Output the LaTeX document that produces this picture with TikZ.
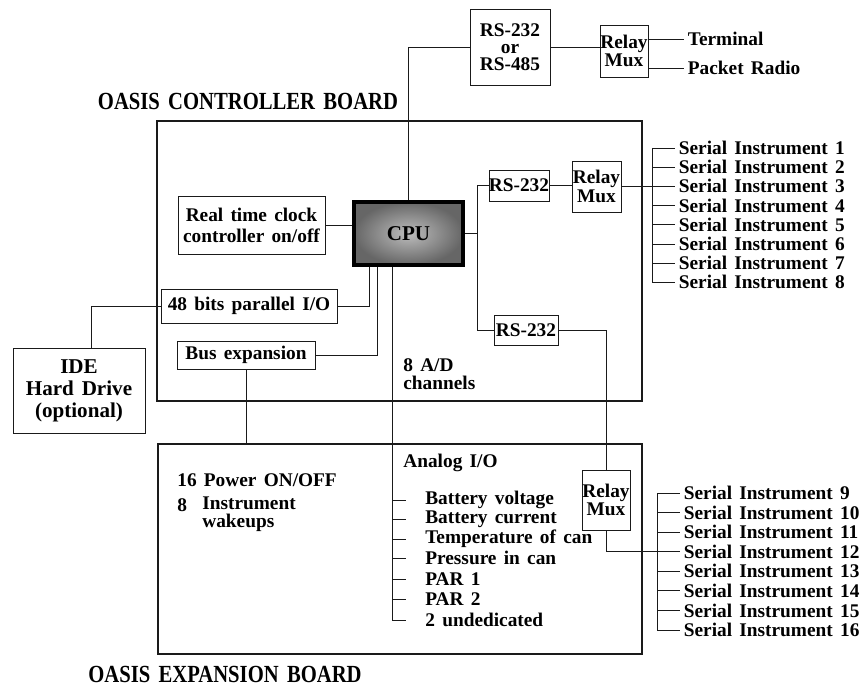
\documentclass[tikz,border=0pt]{standalone}
\usepackage{fontspec}
\setmainfont[WordSpace=1.5]{Liberation Serif}
\newfontfamily\ttlfont[FakeStretch=0.84, WordSpace=1.6]{Liberation Serif}
\usetikzlibrary{calc}
\definecolor{inkline}{HTML}{1A1A1A}
\definecolor{cpuouter}{HTML}{666666}
\definecolor{cpuinner}{HTML}{BDBDBD}
\tikzset{
  board/.style={draw=inkline, line width=1.4pt, inner sep=0pt},
  blk/.style={draw=inkline, line width=0.5pt, inner sep=0pt, align=center, font=\fontsize{11}{10.5}\selectfont\bfseries},
  cpubox/.style={draw=black, line width=2pt, inner sep=0pt, shading=radial, inner color=cpuinner, outer color=cpuouter, font=\fontsize{12}{12}\selectfont\bfseries},
  wire/.style={draw=inkline, line width=0.5pt},
  lbl/.style={font=\fontsize{11}{10.5}\selectfont\bfseries, inner sep=0pt, anchor=west, align=left},
  item/.style={lbl, inner xsep=2pt},
  ttl/.style={font=\ttlfont\fontsize{14}{14}\selectfont\bfseries, inner sep=0pt},
}

\begin{document}
\begin{tikzpicture}[x=0.02cm,y=-0.02cm]
  \useasboundingbox (0,0) rectangle (865,685);
  % boards
  \node[board, minimum width=9.70cm, minimum height=5.60cm] (ctrl) at (399.5,261) {};
  \node[board, minimum width=9.68cm, minimum height=4.20cm] (exp) at (400,549) {};
  \node[ttl] (ctrlttl) at (248,101) {OASIS CONTROLLER BOARD};
  \node[ttl] (expttl) at (225,674) {OASIS EXPANSION BOARD};
  % top link
  \node[blk, font=\fontsize{11}{9.8}\selectfont\bfseries, minimum width=1.60cm, minimum height=1.52cm] (rsx) at (510,47) {RS-232\\or\\RS-485};
  \node[blk, minimum width=0.96cm, minimum height=1.04cm] (muxt) at (624,51) {Relay\\Mux};
  \node[item] (term) at (684,39) {Terminal};
  \node[item] (radio) at (684,68) {Packet Radio};
  % controller board
  \node[cpubox, minimum width=2.18cm, minimum height=1.26cm] (cpu) at (408.5,233.5) {CPU};
  \node[blk, font=\fontsize{11}{12}\selectfont\bfseries, minimum width=2.94cm, minimum height=1.16cm] (rtc) at (251.5,225) {Real time clock\\controller on/off};
  \node[blk, minimum width=3.52cm, minimum height=0.68cm] (pio) at (249,306) {48 bits parallel I/O};
  \node[blk, minimum width=2.76cm, minimum height=0.56cm] (bus) at (246,355) {Bus expansion};
  \node[blk, minimum width=1.08cm, minimum height=0.62cm] (rsa) at (519,185.5) {RS-232};
  \node[blk, minimum width=0.98cm, minimum height=1.02cm] (muxa) at (596.5,186.5) {Relay\\Mux};
  \node[blk, minimum width=1.28cm, minimum height=0.60cm] (rsb) at (526,330) {RS-232};
  \node[lbl] (adc) at (403,374) {8 A/D\\channels};
  \node[blk, font=\fontsize{12}{12.5}\selectfont\bfseries, minimum width=2.64cm, minimum height=1.70cm] (ide) at (79,390.5) {IDE\\Hard Drive\\(optional)};
  % expansion board
  \node[lbl] (pwr) at (177,480) {16 Power ON/OFF};
  \node[lbl] (wk8) at (177,505) {8};
  \node[lbl] (wake) at (202,514) {Instrument\\wakeups};
  \node[lbl] (ana) at (403,463) {Analog I/O};
  \node[blk, minimum width=0.96cm, minimum height=1.20cm] (muxb) at (606,500) {Relay\\Mux};
  \foreach \nm/\yy/\txt in {a1/500/Battery voltage, a2/519/Battery current, a3/539/Temperature of can, a4/558/Pressure in can, a5/579/PAR 1, a6/599/PAR 2, a7/620/2 undedicated}
    \node[lbl] (\nm) at (425,\yy) {\txt};
  % serial lists
  \foreach \i in {1,...,8}
    \node[item] (sa\i) at (675,{148+(\i-1)*19.2}) {Serial Instrument \i};
  \foreach \j [count=\i] in {9,...,16}
    \node[item] (sb\i) at (680,{493+(\i-1)*19.57}) {Serial Instrument \j};
  % connectors
  \draw[wire] (rsx.west) -| (cpu.north);
  \draw[wire] (rsx.east) -- (rsx.east -| muxt.west);
  \draw[wire] (muxt.east |- term.west) -- (term.west);
  \draw[wire] (muxt.east |- radio.west) -- (radio.west);
  \draw[wire] (rtc.east) -- (rtc.east -| cpu.west);
  \draw[wire] (pio.east) -| ($(cpu.south west)+(17,0)$);
  \draw[wire] (bus.east) -| ($(cpu.south west)+(25,0)$);
  \coordinate (adtop) at ($(cpu.south west)+(40,0)$);
  \draw[wire] (adtop) -- (adtop |- a7.west);
  \foreach \k in {1,...,7}
    \draw[wire] (adtop |- a\k.west) -- ++(14,0);
  \coordinate (split) at ($(cpu.east)+(13,0)$);
  \draw[wire] (cpu.east) -- (split);
  \draw[wire] (rsa.west) -| (split |- rsb.west) -- (rsb.west);
  \draw[wire] (rsa.east) -- (rsa.east -| muxa.west);
  \coordinate (bra) at (652,0);
  \draw[wire] (muxa.east) -- (muxa.east -| bra);
  \draw[wire] (bra |- sa1.west) -- (bra |- sa8.west);
  \foreach \i in {1,...,8}
    \draw[wire] (bra |- sa\i.west) -- (sa\i.west);
  \draw[wire] (rsb.east) -| (muxb.north);
  \coordinate (brb) at (657,0);
  \draw[wire] (muxb.south) |- (brb |- sb4.west);
  \draw[wire] (brb |- sb1.west) -- (brb |- sb8.west);
  \foreach \i in {1,...,8}
    \draw[wire] (brb |- sb\i.west) -- (sb\i.west);
  \draw[wire] ($(ide.north)+(12,0)$) |- (pio.west);
  \draw[wire] (bus.south) -- (bus.south |- exp.north);
\end{tikzpicture}
\end{document}
